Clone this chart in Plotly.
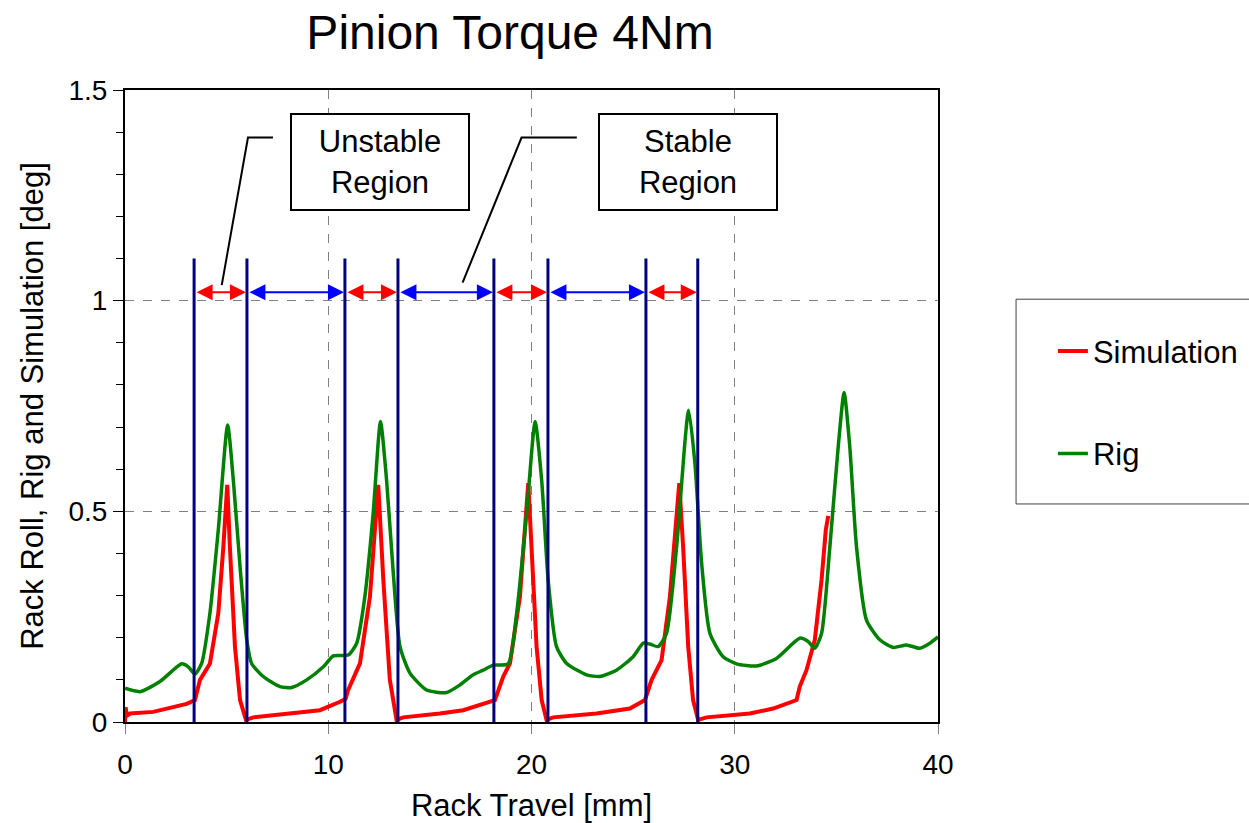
import plotly.graph_objects as go

# Rack travel [mm] vs rack roll [deg], pinion torque 4 Nm
sim_x = [0.0, 0.03, 0.1, 0.25, 1.39, 3.03, 3.44, 3.69, 4.18, 4.59, 4.84, 5.03, 5.16, 5.41, 5.66, 5.95,
         6.31, 7.95, 9.59, 10.58, 10.85, 10.98, 11.56, 12.05, 12.46, 12.71, 13.03, 13.36, 13.69,
         15.49, 16.64, 18.20, 18.61, 18.94, 19.43, 19.84, 20.00, 20.25, 20.50, 20.74, 21.07,
         23.20, 24.84, 25.58, 25.91, 26.40, 26.81, 27.27, 27.46, 27.71, 27.95, 28.20, 28.61,
         30.74, 31.89, 33.04, 33.20, 33.53, 33.94, 34.27, 34.48, 34.60]
sim_y = [0.0, 0.035, 0.015, 0.020, 0.024, 0.043, 0.052, 0.100, 0.139, 0.258, 0.416, 0.563, 0.416, 0.179, 0.052, 0.005,
         0.011, 0.020, 0.028, 0.048, 0.055, 0.076, 0.139, 0.297, 0.563, 0.337, 0.100, 0.005, 0.011,
         0.020, 0.028, 0.052, 0.108, 0.139, 0.297, 0.567, 0.416, 0.179, 0.052, 0.005, 0.011,
         0.020, 0.032, 0.052, 0.100, 0.147, 0.297, 0.567, 0.416, 0.179, 0.052, 0.005, 0.011,
         0.020, 0.032, 0.052, 0.084, 0.123, 0.195, 0.337, 0.456, 0.489]

rig_x = [0.0, 0.74, 1.72, 2.79, 3.11, 3.44, 3.77, 4.18, 4.59, 5.05, 5.33, 5.66, 5.99, 6.23, 6.80, 7.62,
         8.20, 8.94, 9.76, 10.25, 10.98, 11.40, 11.80, 12.21, 12.57, 12.87, 13.20, 13.53, 14.02, 14.84,
         15.82, 16.48, 17.13, 17.62, 18.12, 18.85, 19.27, 19.76, 20.18, 20.50, 20.82, 21.23, 21.73,
         22.71, 23.36, 24.18, 25.00, 25.50, 25.82, 26.23, 26.64, 27.14, 27.73, 28.04, 28.37, 28.78,
         29.43, 30.09, 31.07, 32.05, 33.20, 33.61, 33.94, 34.27, 34.68, 35.09, 35.38, 35.66, 35.99,
         36.48, 37.14, 37.79, 38.45, 39.10, 39.60, 40.00]
rig_y = [0.080, 0.072, 0.096, 0.138, 0.131, 0.114, 0.139, 0.259, 0.456, 0.705, 0.574, 0.369, 0.195, 0.139, 0.108, 0.084,
         0.082, 0.100, 0.131, 0.157, 0.159, 0.187, 0.297, 0.495, 0.713, 0.574, 0.353, 0.179, 0.116, 0.076,
         0.070, 0.088, 0.112, 0.123, 0.135, 0.138, 0.258, 0.495, 0.713, 0.574, 0.337, 0.179, 0.139,
         0.112, 0.108, 0.123, 0.155, 0.187, 0.185, 0.179, 0.210, 0.416, 0.740, 0.614, 0.377, 0.210,
         0.155, 0.138, 0.133, 0.151, 0.199, 0.191, 0.175, 0.210, 0.416, 0.653, 0.782, 0.653, 0.416,
         0.242, 0.195, 0.177, 0.183, 0.175, 0.187, 0.202]

# Region boundaries [mm]; alternating unstable / stable spans between them
boundaries = [3.4, 6.0, 10.82, 13.43, 18.15, 20.81, 25.63, 28.18]
boundary_top = 1.1
arrow_level = 1.02

FONT = "Liberation Sans, Arial, sans-serif"

fig = go.Figure()
fig.add_trace(go.Scatter(x=sim_x, y=sim_y, mode="lines", name="Simulation",
                         line=dict(color="#FF0000", width=4), legendgroup="sim"))
fig.add_trace(go.Scatter(x=rig_x, y=rig_y, mode="lines", name="Rig",
                         line=dict(color="#008000", width=3.5, shape="spline", smoothing=0.6),
                         legendgroup="rig"))

shapes = []
for b in boundaries:
    shapes.append(dict(type="line", xref="x", yref="y", x0=b, x1=b, y0=0, y1=boundary_top,
                       line=dict(color="#000080", width=3)))

annotations = []
for i in range(len(boundaries) - 1):
    colour = "#FF0000" if i % 2 == 0 else "#0000FF"
    annotations.append(dict(x=boundaries[i + 1], y=arrow_level, ax=boundaries[i], ay=arrow_level,
                            xref="x", yref="y", axref="x", ayref="y", text="", showarrow=True,
                            arrowside="end+start", arrowhead=2, arrowsize=1.6, arrowwidth=2,
                            arrowcolor=colour, standoff=1, startstandoff=1))

# Callout boxes with leader lines
callouts = [
    dict(text="Unstable<br>Region", x=12.54, y=1.329,
         path=[(7.28, 1.387), (6.05, 1.387), (4.76, 1.037)]),
    dict(text="Stable<br>Region", x=27.69, y=1.329,
         path=[(22.23, 1.387), (19.51, 1.387), (16.61, 1.043)]),
]
for c in callouts:
    pts = c["path"]
    d = "M {} {} L {} {} L {} {}".format(*[v for p in pts for v in p])
    shapes.append(dict(type="path", xref="x", yref="y", path=d, line=dict(color="black", width=2)))
    annotations.append(dict(x=c["x"], y=c["y"], xref="x", yref="y", text=c["text"], showarrow=False,
                            font=dict(family=FONT, size=31, color="black"), bgcolor="white",
                            bordercolor="black", borderwidth=2, width=174, height=92, align="center"))

# Legend frame
shapes.append(dict(type="rect", xref="paper", yref="paper", x0=1.096, x1=1.386, y0=0.345, y1=0.669,
                   line=dict(color="#404040", width=1), layer="below"))

fig.update_layout(
    width=1249, height=823,
    margin=dict(l=125, r=311, t=90, b=101, autoexpand=False),
    paper_bgcolor="white", plot_bgcolor="white",
    font=dict(family=FONT, color="black"),
    title=dict(text="Pinion Torque 4Nm", font=dict(family=FONT, size=48, color="black"),
               x=0.4736, xref="paper", xanchor="center", y=0.961, yref="container", yanchor="middle",
               automargin=False),
    showlegend=True,
    legend=dict(x=0.843, y=0.6058, xref="container", yref="container", xanchor="left", yanchor="top",
                bgcolor="rgba(0,0,0,0)", borderwidth=0, font=dict(family=FONT, size=31, color="black"),
                tracegroupgap=59, itemwidth=30),
    shapes=shapes, annotations=annotations,
)
fig.update_xaxes(range=[0, 40], tickvals=[0, 10, 20, 30, 40], ticks="outside", ticklen=10,
                 tickcolor="#808080", tickfont=dict(family=FONT, size=28), ticklabelstandoff=6,
                 showline=True, linecolor="black", linewidth=2, mirror=True, automargin=False,
                 showgrid=True, gridcolor="#808080", griddash="dash", gridwidth=1, zeroline=False,
                 title=dict(text="Rack Travel [mm]", font=dict(family=FONT, size=31), standoff=22))
fig.update_yaxes(range=[0, 1.5], tickvals=[0, 0.5, 1, 1.5], ticktext=["0", "0.5", "1", "1.5"],
                 ticks="outside", ticklen=10, tickcolor="black", tickfont=dict(family=FONT, size=28),
                 minor=dict(dtick=0.1, ticks="outside", ticklen=7, tickcolor="black", showgrid=False),
                 showline=True, linecolor="black", linewidth=2, mirror=True, automargin=False,
                 showgrid=True, gridcolor="#808080", griddash="dash", gridwidth=1, zeroline=False,
                 title=dict(text="Rack Roll, Rig and Simulation [deg]", font=dict(family=FONT, size=31),
                            standoff=16))

fig.write_html("out.html")
